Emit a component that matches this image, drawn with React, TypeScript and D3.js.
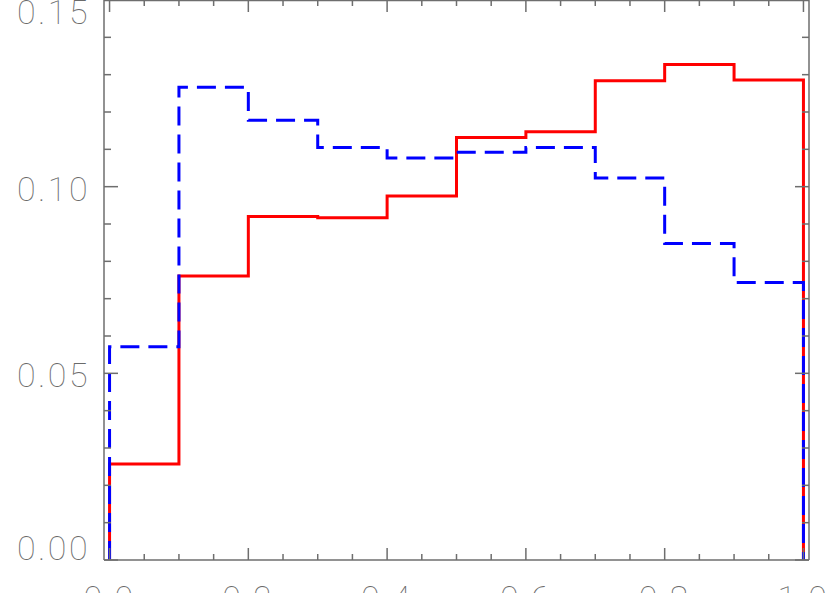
import React, { useEffect, useRef } from 'react';
import * as d3 from 'd3';

// bin edges (0.1 wide) and histogram heights
const binEdges = [0.0, 0.1, 0.2, 0.3, 0.4, 0.5, 0.6, 0.7, 0.8, 0.9, 1.0];
const redValues = [0.0257, 0.0761, 0.0920, 0.0917, 0.0975, 0.1132, 0.1147, 0.1284, 0.1327, 0.1286];
const blueValues = [0.0571, 0.1266, 0.1178, 0.1105, 0.1077, 0.1092, 0.1105, 0.1023, 0.0848, 0.0743];
const xTickLabels = ['0.0', '0.2', '0.4', '0.6', '0.8', '1.0'];
const yTickLabels = ['0.00', '0.05', '0.10', '0.15'];

const App = () => {
    const svgRef = useRef(null);

    useEffect(() => {
        const left = 104, right = 809, top = 0, bottom = 560;
        const axisColor = '#6e6e6e';
        const labelColor = '#6a6a6a';

        const x = d3.scaleLinear().domain([-0.008, 1.008]).range([left, right]);
        const y = d3.scaleLinear().domain([0, 0.15]).range([bottom, top]);

        const svg = d3.select(svgRef.current);
        svg.selectAll('*').remove();

        svg.append('rect').attr('width', 830).attr('height', 593).attr('fill', 'white');

        // histogram paths
        const histPoints = (vals) => {
            const pts = [[binEdges[0], 0]];
            vals.forEach((v, i) => pts.push([binEdges[i], v]));
            pts.push([binEdges[binEdges.length - 1], vals[vals.length - 1]]);
            pts.push([binEdges[binEdges.length - 1], 0]);
            return pts;
        };
        const line = d3.line()
            .x((d) => x(d[0]))
            .y((d) => y(d[1]))
            .curve(d3.curveStepAfter);

        svg.append('path')
            .datum(histPoints(redValues))
            .attr('fill', 'none')
            .attr('stroke', '#ff0000')
            .attr('stroke-width', 3)
            .attr('d', line);

        svg.append('path')
            .datum(histPoints(blueValues))
            .attr('fill', 'none')
            .attr('stroke', '#0000ff')
            .attr('stroke-width', 3)
            .attr('stroke-dasharray', '19,9')
            .attr('d', line);

        // box
        const g = svg.append('g').attr('stroke', axisColor).attr('stroke-width', 1.5);
        g.append('line').attr('x1', left).attr('x2', left).attr('y1', top).attr('y2', bottom);
        g.append('line').attr('x1', right).attr('x2', right).attr('y1', top).attr('y2', bottom);
        g.append('line').attr('x1', left).attr('x2', right).attr('y1', bottom).attr('y2', bottom);
        g.append('line').attr('x1', left).attr('x2', right).attr('y1', top + 0.5).attr('y2', top + 0.5);

        // x ticks: major every 0.2, minor every 0.05
        const xMinor = d3.range(0, 1.0001, 0.05);
        xMinor.forEach((t) => {
            const major = Math.abs(t / 0.2 - Math.round(t / 0.2)) < 1e-6;
            const len = major ? 12 : 6;
            const px = x(t);
            g.append('line').attr('x1', px).attr('x2', px).attr('y1', bottom).attr('y2', bottom - len);
            g.append('line').attr('x1', px).attr('x2', px).attr('y1', top).attr('y2', top + len);
        });

        // y ticks: major every 0.05, minor every 0.01
        const yMinor = d3.range(0, 0.15001, 0.01);
        yMinor.forEach((t) => {
            const major = Math.abs(t / 0.05 - Math.round(t / 0.05)) < 1e-6;
            const len = major ? 14 : 7;
            const py = y(t);
            g.append('line').attr('x1', left).attr('x2', left + len).attr('y1', py).attr('y2', py);
            g.append('line').attr('x1', right).attr('x2', right - len).attr('y1', py).attr('y2', py);
        });

        const font = "Roboto, 'DejaVu Sans', sans-serif";

        svg.append('g')
            .selectAll('text')
            .data(yTickLabels)
            .join('text')
            .attr('x', left - 14)
            .attr('y', (d) => Math.max(top + 12, Math.min(bottom - 12, y(+d) + 2)))
            .attr('text-anchor', 'end')
            .attr('dominant-baseline', 'central')
            .attr('font-family', font)
            .attr('font-weight', 100)
            .attr('font-size', 34)
            .attr('letter-spacing', 2.5)
            .attr('fill', labelColor)
            .text((d) => d);

        svg.append('g')
            .selectAll('text')
            .data(xTickLabels)
            .join('text')
            .attr('x', (d) => x(+d))
            .attr('y', 610)
            .attr('text-anchor', 'middle')
            .attr('font-family', font)
            .attr('font-weight', 100)
            .attr('font-size', 34)
            .attr('letter-spacing', 2.5)
            .attr('fill', labelColor)
            .text((d) => d);
    }, []);

    return (
        <svg
            ref={svgRef}
            width={830}
            height={593}
            style={{ position: 'absolute', left: 0, top: 0 }}
        ></svg>
    );
};

export default App;
